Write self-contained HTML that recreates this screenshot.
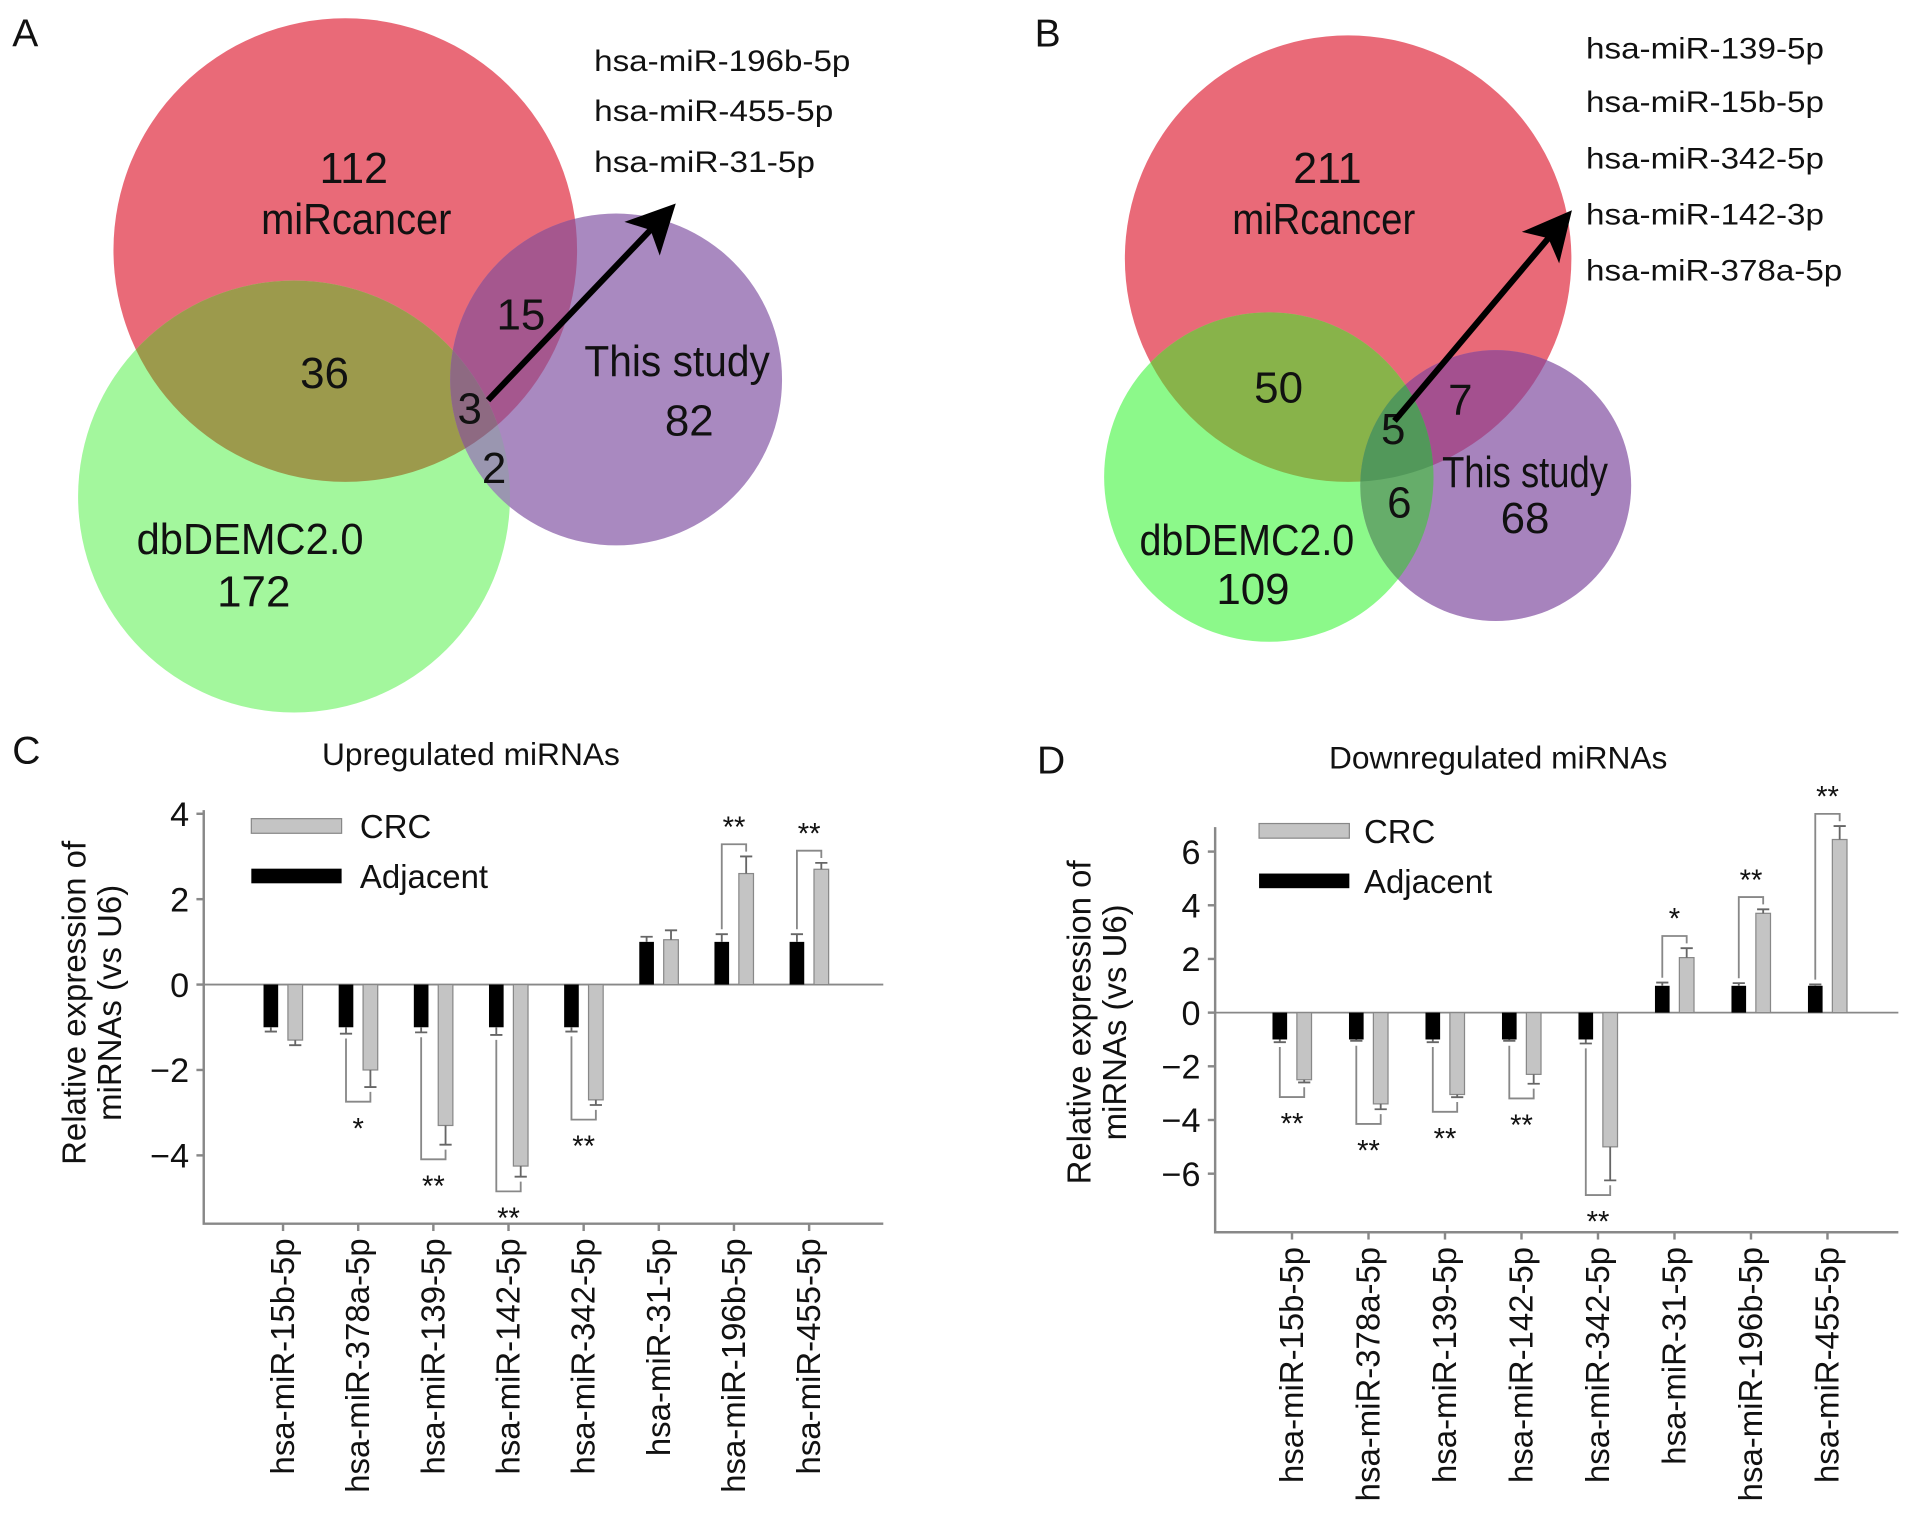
<!DOCTYPE html>
<html><head><meta charset="utf-8"><style>
html,body{margin:0;padding:0;background:#fff}
svg{display:block}
text{font-family:"Liberation Sans",Arial,sans-serif;fill:#111}
</style></head><body>
<svg id="fig" width="1913" height="1517" viewBox="0 0 1568 1243.4" xmlns="http://www.w3.org/2000/svg">
<defs>
<clipPath id="cA_r"><circle cx="283" cy="205" r="190"/></clipPath>
<clipPath id="cA_g"><circle cx="241" cy="407" r="177"/></clipPath>
<clipPath id="cA_p"><circle cx="505" cy="311" r="136"/></clipPath>
<clipPath id="cB_r"><circle cx="1105" cy="212" r="183"/></clipPath>
<clipPath id="cB_g"><circle cx="1040" cy="391" r="135"/></clipPath>
<clipPath id="cB_p"><circle cx="1226" cy="398" r="111"/></clipPath>
<marker id="ah" markerWidth="10" markerHeight="10" refX="6" refY="5" orient="auto" markerUnits="strokeWidth"><path d="M0,1 L8,5 L0,9 L2,5 Z" fill="#000"/></marker>
</defs>

<!-- Panel A -->
<g>
<text x="10" y="38" font-size="32">A</text>
<circle cx="283" cy="205" r="190" fill="#e96a78"/>
<circle cx="241" cy="407" r="177" fill="#a3f79d"/>
<circle cx="505" cy="311" r="136" fill="#a989c0"/>
<g clip-path="url(#cA_r)"><circle cx="241" cy="407" r="177" fill="#9c9a4c"/></g>
<g clip-path="url(#cA_r)"><circle cx="505" cy="311" r="136" fill="#a5578e"/></g>
<g clip-path="url(#cA_g)"><circle cx="505" cy="311" r="136" fill="#9a96b0"/></g>
<g clip-path="url(#cA_g)"><g clip-path="url(#cA_r)"><circle cx="505" cy="311" r="136" fill="#8e6a82"/></g></g>
<g font-size="36" text-anchor="middle">
<text x="290" y="150" textLength="56" lengthAdjust="spacingAndGlyphs">112</text>
<text x="292" y="192" textLength="156" lengthAdjust="spacingAndGlyphs">miRcancer</text>
<text x="266" y="318">36</text>
<text x="427" y="270">15</text>
<text x="385" y="347">3</text>
<text x="405" y="396">2</text>
<text x="555" y="308" textLength="152" lengthAdjust="spacingAndGlyphs">This  study</text>
<text x="565" y="357">82</text>
<text x="205" y="454" textLength="186" lengthAdjust="spacingAndGlyphs">dbDEMC2.0</text>
<text x="208" y="497">172</text>
</g>
<line x1="400" y1="328" x2="547" y2="174" stroke="#000" stroke-width="5" marker-end="url(#ah)"/>
<g font-size="24">
<text x="487" y="58" textLength="210" lengthAdjust="spacingAndGlyphs">hsa-miR-196b-5p</text>
<text x="487" y="99" textLength="196" lengthAdjust="spacingAndGlyphs">hsa-miR-455-5p</text>
<text x="487" y="141" textLength="181" lengthAdjust="spacingAndGlyphs">hsa-miR-31-5p</text>
</g>
</g>

<!-- Panel B -->
<g>
<text x="848" y="38" font-size="32">B</text>
<circle cx="1105" cy="212" r="183" fill="#e96a78"/>
<circle cx="1040" cy="391" r="135" fill="#8cf98a"/>
<circle cx="1226" cy="398" r="111" fill="#a783bd"/>
<g clip-path="url(#cB_r)"><circle cx="1040" cy="391" r="135" fill="#88b34a"/></g>
<g clip-path="url(#cB_r)"><circle cx="1226" cy="398" r="111" fill="#a4508f"/></g>
<g clip-path="url(#cB_g)"><circle cx="1226" cy="398" r="111" fill="#66ad6a"/></g>
<g clip-path="url(#cB_g)"><g clip-path="url(#cB_r)"><circle cx="1226" cy="398" r="111" fill="#52985a"/></g></g>
<g font-size="36" text-anchor="middle">
<text x="1088" y="150" textLength="56" lengthAdjust="spacingAndGlyphs">211</text>
<text x="1085" y="192" textLength="150" lengthAdjust="spacingAndGlyphs">miRcancer</text>
<text x="1048" y="330">50</text>
<text x="1197" y="340">7</text>
<text x="1142" y="364">5</text>
<text x="1147" y="424">6</text>
<text x="1250" y="399" textLength="136" lengthAdjust="spacingAndGlyphs">This study</text>
<text x="1250" y="437">68</text>
<text x="1022" y="455" textLength="176" lengthAdjust="spacingAndGlyphs">dbDEMC2.0</text>
<text x="1027" y="495">109</text>
</g>
<line x1="1143" y1="345" x2="1282" y2="180" stroke="#000" stroke-width="5" marker-end="url(#ah)"/>
<g font-size="24">
<text x="1300" y="48" textLength="195" lengthAdjust="spacingAndGlyphs">hsa-miR-139-5p</text>
<text x="1300" y="92" textLength="195" lengthAdjust="spacingAndGlyphs">hsa-miR-15b-5p</text>
<text x="1300" y="138" textLength="195" lengthAdjust="spacingAndGlyphs">hsa-miR-342-5p</text>
<text x="1300" y="184" textLength="195" lengthAdjust="spacingAndGlyphs">hsa-miR-142-3p</text>
<text x="1300" y="230" textLength="210" lengthAdjust="spacingAndGlyphs">hsa-miR-378a-5p</text>
</g>
</g>

<g id="chartC"></g>
<g id="chartD"></g>
</svg>
<script>
const categories = ["hsa-miR-15b-5p","hsa-miR-378a-5p","hsa-miR-139-5p","hsa-miR-142-5p","hsa-miR-342-5p","hsa-miR-31-5p","hsa-miR-196b-5p","hsa-miR-455-5p"];
const upAdjacent = [-1,-1,-1,-1,-1,1,1,1];
const upAdjacentErr = [0.1,0.15,0.12,0.18,0.1,0.12,0.18,0.18];
const upCRC = [-1.3,-2.0,-3.3,-4.25,-2.7,1.05,2.6,2.7];
const upCRCErr = [0.12,0.4,0.45,0.25,0.12,0.22,0.4,0.15];
const upSig = ["","*","**","**","**","","**","**"];
const upTicks = [4,2,0,-2,-4];
const downAdjacent = [-1,-1,-1,-1,-1,1,1,1];
const downAdjacentErr = [0.1,0.05,0.1,0.05,0.15,0.12,0.1,0.05];
const downCRC = [-2.5,-3.4,-3.05,-2.3,-5.0,2.05,3.7,6.45];
const downCRCErr = [0.1,0.2,0.1,0.35,1.25,0.35,0.15,0.5];
const downSig = ["**","**","**","**","**","*","**","**"];
const downTicks = [6,4,2,0,-2,-4,-6];

const NS="http://www.w3.org/2000/svg";
function mk(parent,tag,attrs,txt){const e=document.createElementNS(NS,tag);for(const k in attrs)e.setAttribute(k,attrs[k]);if(txt!==undefined)e.textContent=txt;parent.appendChild(e);return e;}

function drawChart(g,cfg){
  const y=v=>cfg.y0-v*cfg.unit;
  const x=i=>cfg.x0+i*cfg.step;
  const lbl=mk(g,'text',{x:cfg.lx,y:cfg.ly,'font-size':32});lbl.textContent=cfg.letter;
  
  
  const t=mk(g,'text',{x:cfg.tx,y:cfg.ty,'font-size':26,'text-anchor':'middle'},cfg.title);
  
  
  const ax=mk(g,'path',{d:`M${cfg.ax},${cfg.atop} V${cfg.abot} H${cfg.aright}`,fill:'none',stroke:'#888','stroke-width':2});
  
  
  const zl=mk(g,'line',{x1:cfg.ax,x2:cfg.aright,y1:y(0),y2:y(0),stroke:'#888','stroke-width':1.5});
  
  
  cfg.ticks.forEach(v=>{
    mk(g,'line',{x1:cfg.ax-6,x2:cfg.ax,y1:y(v),y2:y(v),stroke:'#888','stroke-width':2});
    const tl=mk(g,'text',{x:cfg.ax-12,y:y(v)+10,'font-size':28,'text-anchor':'end'},v<0?'\u2212'+(-v):String(v));
    
    
  });
  const yt=mk(g,'text',{transform:`translate(${cfg.ytx},${cfg.yty}) rotate(-90)`,'font-size':27,'text-anchor':'middle'});
  
  
  mk(yt,'tspan',{x:0,y:0},'Relative expression of');
  mk(yt,'tspan',{x:0,y:29},'miRNAs (vs U6)');
  const lg=mk(g,'g',{});
  
  
  mk(lg,'rect',{x:cfg.legx,y:cfg.legy-6,width:cfg.legw,height:12,fill:'#c4c4c4',stroke:'#888'});
  mk(lg,'text',{x:cfg.legtx,y:cfg.legy+10,'font-size':27},'CRC');
  mk(lg,'rect',{x:cfg.legx,y:cfg.legy+35,width:cfg.legw,height:12,fill:'#000'});
  mk(lg,'text',{x:cfg.legtx,y:cfg.legy+51,'font-size':27},'Adjacent');
  const bw=12;
  categories.forEach((c,i)=>{
    const cx=x(i);
    mk(g,'line',{x1:cx,x2:cx,y1:cfg.abot,y2:cfg.abot+6,stroke:'#888','stroke-width':2});
    const xl=mk(g,'text',{transform:`translate(${cx+9},${cfg.abot+12}) rotate(-90)`,'font-size':27,'text-anchor':'end'},c);
    
    
    const a=cfg.adj[i],ae=cfg.adjE[i],r=cfg.crc[i],re=cfg.crcE[i];
    const bx=cx-10,gx=cx+10;
    const b1=mk(g,'rect',{x:bx-bw/2,y:Math.min(y(0),y(a)),width:bw,height:Math.abs(y(a)-y(0)),fill:'#000'});
    
    
    const b2=mk(g,'rect',{x:gx-bw/2,y:Math.min(y(0),y(r)),width:bw,height:Math.abs(y(r)-y(0)),fill:'#c4c4c4',stroke:'#888','stroke-width':1});
    
    
    const s=Math.sign(a);
    mk(g,'path',{d:`M${bx},${y(a)} V${y(a+s*ae)} M${bx-5},${y(a+s*ae)} H${bx+5}`,stroke:'#666','stroke-width':1.5,fill:'none'});
    const s2=Math.sign(r);
    mk(g,'path',{d:`M${gx},${y(r)} V${y(r+s2*re)} M${gx-5},${y(r+s2*re)} H${gx+5}`,stroke:'#666','stroke-width':1.5,fill:'none'});
    const sig=cfg.sig[i];
    if(sig){
      let lvl,star,sy;
      if(r<0){
        lvl=y(r-re)+12;
        mk(g,'path',{d:`M${bx},${y(a-ae)+4} V${lvl} H${gx} V${y(r-re)+4}`,stroke:'#888','stroke-width':1.5,fill:'none'});
        sy=lvl+30;
      } else {
        lvl=y(r+re)-10;
        mk(g,'path',{d:`M${bx},${y(a+ae)-4} V${lvl} H${gx} V${y(r+re)-4}`,stroke:'#888','stroke-width':1.5,fill:'none'});
        sy=lvl-6;
      }
      star=mk(g,'text',{x:cx,y:sy,'font-size':24,'text-anchor':'middle'},sig);
      
      
    }
  });
}
drawChart(document.getElementById('chartC'),{letter:'C',lx:10,ly:626,title:'Upregulated miRNAs',tx:386,ty:627,
  y0:807,unit:35,x0:232,step:61.6,ax:167,atop:664,abot:1003,aright:724,ticks:upTicks,ytx:70,yty:822,
  legx:206,legy:677,legw:74,legtx:295,adj:upAdjacent,adjE:upAdjacentErr,crc:upCRC,crcE:upCRCErr,sig:upSig});
drawChart(document.getElementById('chartD'),{letter:'D',lx:850,ly:634,title:'Downregulated miRNAs',tx:1228,ty:630,
  y0:830,unit:22,x0:1059,step:62.7,ax:996,atop:678,abot:1010,aright:1556,ticks:downTicks,ytx:894,yty:838,
  legx:1032,legy:681,legw:74,legtx:1118,adj:downAdjacent,adjE:downAdjacentErr,crc:downCRC,crcE:downCRCErr,sig:downSig});
</script>
</body></html>
